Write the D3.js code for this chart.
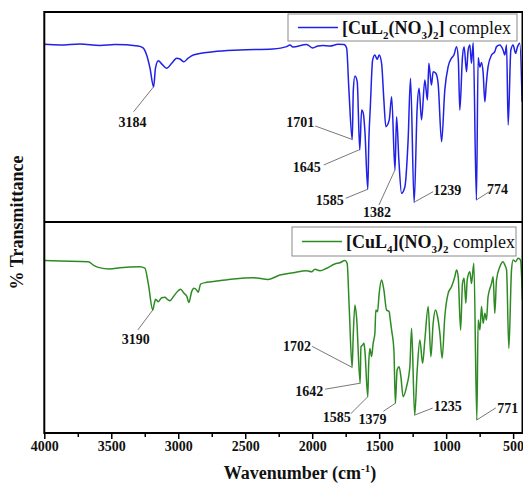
<!DOCTYPE html>
<html>
<head>
<meta charset="utf-8">
<script src="https://cdn.jsdelivr.net/npm/d3@7/dist/d3.min.js"></script>
<style>
  html, body { margin: 0; padding: 0; background: #fff; }
  svg { display: block; }
  text { font-family: "Liberation Serif", "Times New Roman", serif; }
</style>
</head>
<body>
<svg id="chart" width="523" height="484"></svg>
<script>
// FT-IR spectra of the two copper complexes (wavenumber in cm-1, % transmittance)
const cuL2Wn = [4000, 3883, 3734, 3584, 3472, 3301, 3263, 3236, 3211, 3184, 3170, 3149, 3122, 3087, 3047, 3012, 2987, 2957, 2928, 2888,
  2739, 2540, 2293, 2191, 2166, 2144, 2042, 1995, 1957, 1920, 1868, 1808, 1763, 1743, 1726, 1701, 1693, 1681, 1664, 1645,
  1631, 1619, 1607, 1585, 1577, 1566, 1549, 1532, 1515, 1500, 1482, 1465, 1450, 1425, 1407, 1382, 1370, 1353, 1333, 1308,
  1284, 1266, 1239, 1216, 1202, 1184, 1159, 1140, 1129, 1110, 1097, 1077, 1060, 1034, 1010, 985, 960, 942, 922, 909,
  898, 878, 866, 848, 836, 823, 811, 798, 774, 761, 748, 736, 724, 711, 700, 687, 661, 637, 624, 599,
  575, 562, 549, 537, 517, 500, 482, 467, 450, 433];
const cuL2T = [84.6, 84.3, 84.8, 84.1, 84.5, 83.8, 82.9, 79.5, 73.3, 64.4, 73.3, 76.8, 75.2, 73.2, 75.7, 78.0, 77.6, 76.3, 77.9, 79.5,
  81.1, 81.9, 82.4, 83.5, 84.3, 83.3, 84.5, 82.9, 83.8, 84.0, 83.8, 84.6, 84.5, 82.9, 62.9, 39.3, 62.9, 69.5, 66.8, 34.3,
  53.3, 51.9, 43.8, 15.6, 39.0, 54.9, 77.1, 79.5, 77.5, 79.5, 75.6, 58.1, 45.4, 48.6, 59.7, 24.8, 50.1, 29.5, 13.7, 16.8,
  39.0, 68.4, 9.2, 54.9, 63.7, 48.6, 67.6, 58.1, 75.6, 65.2, 71.6, 70.8, 66.0, 38.2, 62.9, 74.0, 78.0, 79.5, 83.5, 77.1,
  53.3, 78.7, 83.5, 71.6, 81.9, 84.3, 75.6, 85.4, 10.5, 78.2, 73.7, 76.0, 71.2, 57.3, 66.0, 74.0, 79.5, 81.1, 83.5, 84.3,
  81.9, 79.5, 84.3, 46.2, 81.9, 84.3, 80.3, 83.5, 85.1, 57.3];

const cuL4Wn = [4000, 3883, 3672, 3634, 3597, 3510, 3435, 3286, 3249, 3224, 3190, 3181, 3169, 3149, 3124, 3099, 3082, 3062, 3037, 3000,
  2982, 2957, 2937, 2920, 2900, 2883, 2863, 2851, 2833, 2788, 2713, 2590, 2440, 2328, 2241, 2142, 2042, 2004, 1980, 1942,
  1892, 1831, 1793, 1756, 1739, 1724, 1702, 1694, 1681, 1669, 1642, 1636, 1624, 1614, 1607, 1585, 1579, 1569, 1557, 1545,
  1532, 1525, 1512, 1500, 1482, 1465, 1445, 1425, 1420, 1407, 1390, 1379, 1366, 1351, 1338, 1321, 1296, 1271, 1258, 1235,
  1216, 1196, 1176, 1159, 1134, 1114, 1097, 1079, 1064, 1047, 1030, 1010, 985, 960, 935, 922, 910, 892, 878, 866,
  853, 843, 823, 811, 793, 771, 761, 748, 736, 724, 711, 699, 687, 661, 649, 637, 624, 599, 575, 562,
  549, 532, 512, 500, 482, 463, 445, 430];
const cuL4T = [81.7, 81.5, 81.2, 79.6, 78.5, 77.7, 78.3, 78.8, 78.1, 70.9, 58.3, 60.7, 63.4, 62.2, 64.1, 64.3, 63.4, 62.7, 64.6, 67.4,
  68.1, 66.2, 64.9, 61.9, 67.0, 68.6, 67.8, 66.7, 70.6, 71.4, 72.0, 73.0, 73.6, 72.8, 74.9, 76.0, 76.9, 76.4, 77.6, 76.9,
  78.1, 80.1, 80.7, 81.7, 80.4, 59.9, 31.1, 45.6, 60.7, 55.1, 23.6, 40.9, 41.7, 42.5, 39.3, 17.2, 31.4, 40.1, 36.2, 42.5,
  47.3, 58.3, 57.5, 66.2, 72.5, 67.8, 58.3, 57.5, 55.1, 48.8, 39.3, 14.1, 29.9, 31.4, 26.7, 17.2, 21.9, 31.4, 49.6, 8.5,
  29.9, 44.1, 33.0, 44.1, 59.9, 36.2, 52.0, 58.3, 55.1, 47.3, 35.4, 55.1, 66.2, 69.3, 74.1, 77.3, 74.1, 48.8, 70.9, 73.3,
  61.5, 72.5, 76.4, 70.9, 80.4, 6.2, 53.6, 48.8, 59.9, 52.0, 56.7, 53.6, 64.6, 70.9, 74.1, 56.7, 72.5, 78.8, 81.2, 79.6,
  77.3, 40.1, 77.3, 82.0, 81.2, 82.8, 82.0, 63.0];

// Assigned bands labelled on each trace
const cuL2Peaks = [3184, 1701, 1645, 1585, 1382, 1239, 774];
const cuL4Peaks = [3190, 1702, 1642, 1585, 1379, 1235, 771];

const xMajorTicks = [4000, 3500, 3000, 2500, 2000, 1500, 1000, 500];
const xMinorTicks = [3750, 3250, 2750, 2250, 1750, 1250, 750];

// label placement relative to each band minimum: text centre (tx, ty), leader start (lx, ly), leader end (ex, ey)
const cuL2LabelLayout = [
  { tx: -21, ty: 35, lx: -20, ly: 25, ex: 0, ey: 0 },
  { tx: -52, ty: -17, lx: -37, ly: -13.5, ex: 0, ey: 0 },
  { tx: -53, ty: 17, lx: -36, ly: 15, ex: -1, ey: 0 },
  { tx: -38, ty: 11, lx: -22, ly: 9, ex: 0, ey: 0 },
  { tx: -18, ty: 42, lx: -16, ly: 35, ex: 0, ey: 0 },
  { tx: 33, ty: -13, lx: 1, ly: -1, ex: 19, ey: -11 },
  { tx: 21, ty: -11, lx: 0, ly: 0, ex: 12.5, ey: -8 }
];
const cuL4LabelLayout = [
  { tx: -17, ty: 29, lx: -15, ly: 20, ex: 0, ey: 0 },
  { tx: -55, ty: -21, lx: -40, ly: -21, ex: 0, ey: 0 },
  { tx: -51, ty: 8, lx: -35, ly: 6, ex: 0, ey: 0 },
  { tx: -31, ty: 20, lx: -17, ly: 17, ex: 0, ey: 0 },
  { tx: -23, ty: 16, lx: -12, ly: 8, ex: 0, ey: 0 },
  { tx: 33, ty: -9, lx: 0, ly: 0, ex: 18, ey: -7 },
  { tx: 31, ty: -12, lx: 0, ly: 0, ex: 19, ey: -12 }
];

const svg = d3.select("#chart");
const plotLeft = 44.3, plotRight = 522.5, plotTop = 12, plotMid = 222, plotBottom = 433;

const x = d3.scaleLinear().domain([4000, 430]).range([plotLeft, plotRight]);
const yTop = d3.scaleLinear().domain([0, 100]).range([plotMid, plotTop]);
const yBot = d3.scaleLinear().domain([0, 100]).range([plotBottom, plotMid]);

function drawTrace(wn, tr, yScale, color) {
  const pts = wn.map((w, i) => [w, tr[i]]);
  const line = d3.line()
    .x(d => x(d[0]))
    .y(d => yScale(d[1]))
    .curve(d3.curveMonotoneX);
  svg.append("path")
    .datum(pts)
    .attr("d", line)
    .attr("fill", "none")
    .attr("stroke", color)
    .attr("stroke-width", 1.5)
    .attr("stroke-linejoin", "round");
}

function drawPeakLabels(peaks, wn, tr, yScale, layout) {
  const g = svg.append("g");
  peaks.forEach((p, i) => {
    const idx = wn.indexOf(p);
    const px = x(p), py = yScale(tr[idx]);
    const l = layout[i];
    g.append("line")
      .attr("x1", px + l.lx).attr("y1", py + l.ly)
      .attr("x2", px + l.ex).attr("y2", py + l.ey)
      .attr("stroke", "#555").attr("stroke-width", 0.8);
    g.append("text")
      .attr("x", px + l.tx).attr("y", py + l.ty)
      .attr("dy", "0.35em")
      .attr("text-anchor", "middle")
      .attr("font-weight", "bold")
      .attr("font-size", 14)
      .attr("fill", "#111")
      .text(p);
  });
}

drawTrace(cuL2Wn, cuL2T, yTop, "#2020e6");
drawTrace(cuL4Wn, cuL4T, yBot, "#2e8b24");

drawPeakLabels(cuL2Peaks, cuL2Wn, cuL2T, yTop, cuL2LabelLayout);
drawPeakLabels(cuL4Peaks, cuL4Wn, cuL4T, yBot, cuL4LabelLayout);

// panel frames
svg.append("rect")
  .attr("x", plotLeft).attr("y", plotTop)
  .attr("width", plotRight - plotLeft).attr("height", plotBottom - plotTop)
  .attr("fill", "none").attr("stroke", "#000").attr("stroke-width", 2);
svg.append("line")
  .attr("x1", plotLeft).attr("x2", plotRight).attr("y1", plotMid).attr("y2", plotMid)
  .attr("stroke", "#000").attr("stroke-width", 2);

// x axis
const axisMajor = d3.axisBottom(x).tickValues(xMajorTicks).tickSize(6).tickPadding(2).tickFormat(d3.format("d"));
const gx = svg.append("g").attr("transform", `translate(0,${plotBottom})`).call(axisMajor);
gx.select(".domain").remove();
gx.selectAll(".tick line").attr("stroke", "#000").attr("stroke-width", 1.5);
gx.selectAll(".tick text")
  .attr("font-family", "Liberation Serif, Times New Roman, serif")
  .attr("font-weight", "bold").attr("font-size", 14).attr("fill", "#111");

const axisMinor = d3.axisBottom(x).tickValues(xMinorTicks).tickSize(4).tickFormat("");
const gm = svg.append("g").attr("transform", `translate(0,${plotBottom})`).call(axisMinor);
gm.select(".domain").remove();
gm.selectAll(".tick line").attr("stroke", "#000").attr("stroke-width", 1.5);

// axis titles
const xTitle = svg.append("text")
  .attr("x", 300).attr("y", 479)
  .attr("text-anchor", "middle")
  .attr("font-weight", "bold").attr("font-size", 18).attr("fill", "#111");
xTitle.append("tspan").text("Wavenumber (cm");
xTitle.append("tspan").attr("font-size", 11).attr("dy", -7).text("-1");
xTitle.append("tspan").attr("dy", 7).text(")");

svg.append("text")
  .attr("transform", `translate(23,${(plotTop + plotBottom) / 2}) rotate(-90)`)
  .attr("text-anchor", "middle")
  .attr("font-weight", "bold").attr("font-size", 18).attr("fill", "#111")
  .text("% Transmittance");

// legends
function legend(y0, y1, x0, x1, color, parts) {
  const g = svg.append("g");
  g.append("rect")
    .attr("x", x0).attr("y", y0).attr("width", x1 - x0).attr("height", y1 - y0)
    .attr("fill", "#fff").attr("stroke", "#8a8a8a").attr("stroke-width", 1);
  const cy = (y0 + y1) / 2;
  g.append("line")
    .attr("x1", x0 + 10).attr("x2", x0 + 50).attr("y1", cy).attr("y2", cy)
    .attr("stroke", color).attr("stroke-width", 1.5);
  const t = g.append("text")
    .attr("x", x0 + 54).attr("y", cy + 6)
    .attr("font-size", 18).attr("fill", "#111");
  parts.forEach(p => {
    const s = t.append("tspan").text(p.t);
    if (p.b) s.attr("font-weight", "bold");
    if (p.sub) s.attr("font-size", 11).attr("dy", 5);
    if (p.up) s.attr("dy", -5);
  });
}

legend(14, 41, 288, 517, "#2020e6", [
  { t: "[CuL", b: true }, { t: "2", b: true, sub: true }, { t: "(NO", b: true, up: true },
  { t: "3", b: true, sub: true }, { t: ")", b: true, up: true }, { t: "2", b: true, sub: true },
  { t: "]", b: true, up: true }, { t: " complex" }
]);
legend(227, 256, 292, 516, "#2e8b24", [
  { t: "[CuL", b: true }, { t: "4", b: true, sub: true }, { t: "](NO", b: true, up: true },
  { t: "3", b: true, sub: true }, { t: ")", b: true, up: true }, { t: "2", b: true, sub: true },
  { t: " complex", up: true }
]);
</script>
</body>
</html>
